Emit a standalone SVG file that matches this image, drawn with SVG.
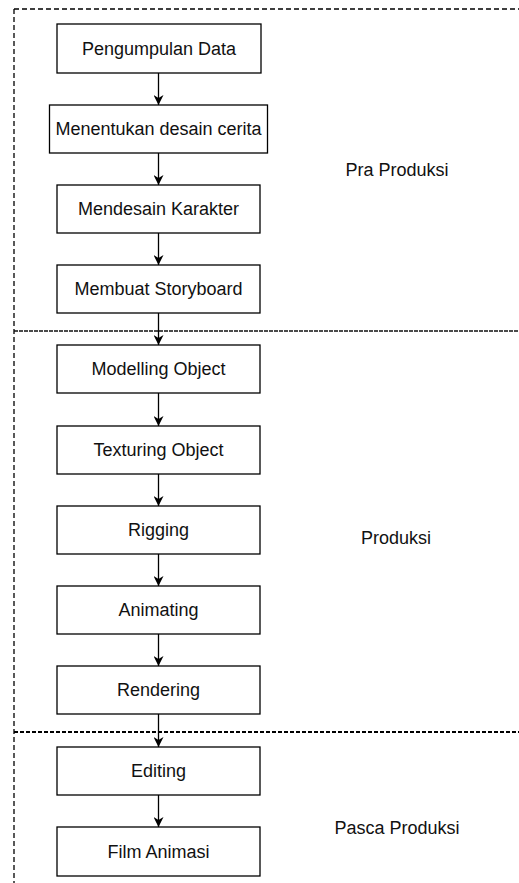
<svg xmlns="http://www.w3.org/2000/svg" width="519" height="883" viewBox="0 0 519 883">
<style>
.box{fill:#fff;stroke:#000;stroke-width:1.3}
.t{font-family:"Liberation Sans",Arial,sans-serif;font-size:18px;fill:#111;text-anchor:middle;dominant-baseline:central}
.lbl{font-family:"Liberation Sans",Arial,sans-serif;font-size:18px;fill:#111;text-anchor:middle;dominant-baseline:central}
.edge{stroke:#000;stroke-width:1.3;fill:none;marker-end:url(#arr)}
</style>
<defs>
<marker id="arr" markerWidth="10" markerHeight="10" refX="10" refY="5" orient="auto" markerUnits="userSpaceOnUse">
<path d="M0,0 L10,5 L0,10 L3,5 Z" fill="#000"/>
</marker>
</defs>
<rect width="519" height="883" fill="#fff"/>
<g id="frame">
<path d="M14,9 H519" stroke="#000" stroke-width="1.3" stroke-dasharray="5 3" fill="none"/>
<path d="M14,9 V883" stroke="#000" stroke-width="1.3" stroke-dasharray="5 3" fill="none"/>
<path d="M14,331 H519" stroke="#111" stroke-width="1.3" stroke-dasharray="4 1" fill="none"/>
<path d="M14,732 H519" stroke="#000" stroke-width="2" stroke-dasharray="4 2" fill="none"/>
</g>
<g id="connectors">
<path class="edge" d="M158.5,73 V105"/>
<path class="edge" d="M158.5,153 V185"/>
<path class="edge" d="M158.5,233 V265"/>
<path class="edge" d="M158.5,313 V345"/>
<path class="edge" d="M158.5,393 V426"/>
<path class="edge" d="M158.5,474 V506"/>
<path class="edge" d="M158.5,554 V586"/>
<path class="edge" d="M158.5,634 V666"/>
<path class="edge" d="M158.5,714 V747"/>
<path class="edge" d="M158.5,795 V827"/>
</g>
<g id="n1"><rect class="box" x="57" y="24" width="204" height="49"/><text class="t" x="159" y="48.5">Pengumpulan Data</text></g>
<g id="n2"><rect class="box" x="49.5" y="105" width="218" height="48"/><text class="t" x="158.5" y="129">Menentukan desain cerita</text></g>
<g id="n3"><rect class="box" x="57" y="185" width="203" height="48"/><text class="t" x="158.5" y="209">Mendesain Karakter</text></g>
<g id="n4"><rect class="box" x="57" y="265" width="203" height="48"/><text class="t" x="158.5" y="289">Membuat Storyboard</text></g>
<g id="n5"><rect class="box" x="57" y="345" width="203" height="48"/><text class="t" x="158.5" y="369">Modelling Object</text></g>
<g id="n6"><rect class="box" x="57" y="426" width="203" height="48"/><text class="t" x="158.5" y="450">Texturing Object</text></g>
<g id="n7"><rect class="box" x="57" y="506" width="203" height="48"/><text class="t" x="158.5" y="530">Rigging</text></g>
<g id="n8"><rect class="box" x="57" y="586" width="203" height="48"/><text class="t" x="158.5" y="610">Animating</text></g>
<g id="n9"><rect class="box" x="57" y="666" width="203" height="48"/><text class="t" x="158.5" y="690">Rendering</text></g>
<g id="n10"><rect class="box" x="57" y="747" width="203" height="48"/><text class="t" x="158.5" y="771">Editing</text></g>
<g id="n11"><rect class="box" x="57" y="827" width="203" height="49"/><text class="t" x="158.5" y="851.5">Film Animasi</text></g>
<g id="labels">
<text class="lbl" x="397" y="170">Pra Produksi</text>
<text class="lbl" x="396" y="538">Produksi</text>
<text class="lbl" x="397" y="828">Pasca Produksi</text>
</g>
</svg>
